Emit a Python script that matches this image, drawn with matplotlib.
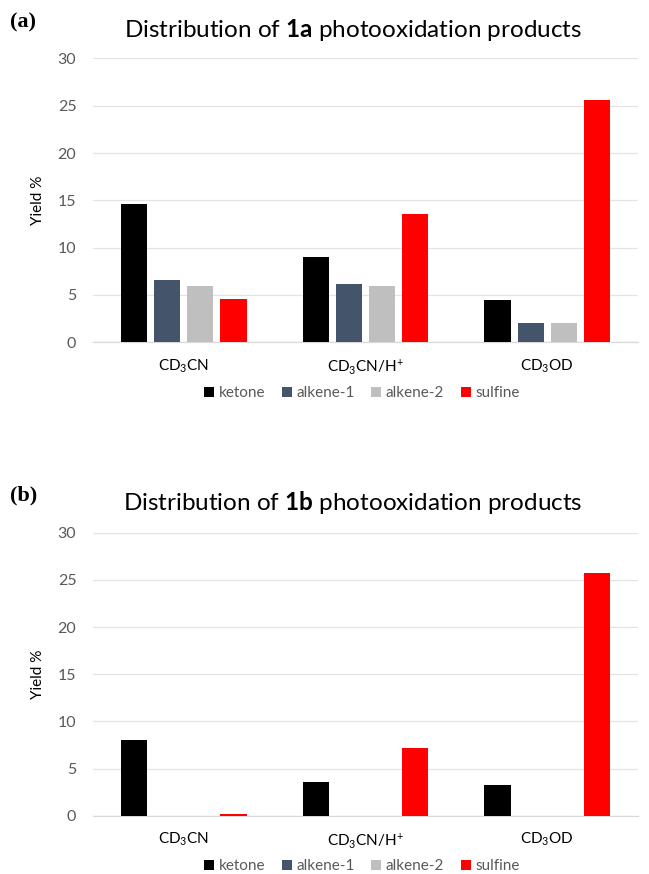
import matplotlib
matplotlib.use("Agg")
import matplotlib.pyplot as plt
import numpy as np
from matplotlib.patches import Patch

plt.rcParams['font.family'] = ['Lato', 'DejaVu Sans']
plt.rcParams['mathtext.fontset'] = 'custom'
plt.rcParams['mathtext.rm'] = 'Lato'
plt.rcParams['mathtext.bf'] = 'Lato:bold'
plt.rcParams['mathtext.it'] = 'Lato:italic'
plt.rcParams['mathtext.default'] = 'regular'

solvents = ["CD$_3$CN", "CD$_3$CN/H$^{+}$", "CD$_3$OD"]
series_names = ["ketone", "alkene-1", "alkene-2", "sulfine"]
colors = ["#000000", "#44546A", "#BFBFBF", "#FF0000"]

# panel (a): compound 1a
a_ketone = [14.6, 9.0, 4.5]
a_alkene1 = [6.6, 6.2, 2.0]
a_alkene2 = [6.0, 6.0, 2.0]
a_sulfine = [4.6, 13.6, 25.6]

# panel (b): compound 1b
b_ketone = [8.0, 3.6, 3.3]
b_alkene1 = [0.0, 0.0, 0.0]
b_alkene2 = [0.0, 0.0, 0.0]
b_sulfine = [0.2, 7.2, 25.7]

yticks = [0, 5, 10, 15, 20, 25, 30]

W, H = 649, 874
fig = plt.figure(figsize=(W / 100, H / 100), dpi=100)

def make_panel(top_px, bottom_px, data, tag, compound, title_y_px, legend_y_px):
    left_px, right_px = 93, 638
    ax = fig.add_axes([left_px / W, 1 - bottom_px / H, (right_px - left_px) / W,
                       (bottom_px - top_px) / H])
    x = np.arange(len(solvents))
    w = 0.144
    step = 0.182
    for i, (vals, c, name) in enumerate(zip(data, colors, series_names)):
        ax.bar(x + (i - 1.5) * step, vals, width=w, color=c, label=name,
               edgecolor='none', zorder=3)
    ax.set_xlim(-0.5, 2.5)
    ax.set_ylim(0, 30)
    ax.set_yticks(yticks)
    ax.set_yticklabels([str(t) for t in yticks], color="#595959", fontsize=11.5)
    ax.set_xticks(x)
    ax.set_xticklabels(solvents, fontsize=11, color="#000000")
    ax.tick_params(axis='both', length=0)
    ax.tick_params(axis='x', pad=11)
    ax.tick_params(axis='y', pad=12)
    ax.grid(axis='y', color="#E3E3E3", linewidth=0.9, zorder=0)
    for s in ['top', 'right', 'left']:
        ax.spines[s].set_visible(False)
    ax.spines['bottom'].set_color("#D9D9D9")
    ax.spines['bottom'].set_linewidth(0.9)
    ax.set_ylabel("Yield %", fontsize=11, color="#000000", labelpad=9)
    fig.text(353 / W, 1 - title_y_px / H,
             "Distribution of $\\mathbf{" + compound + "}$ photooxidation products",
             ha='center', va='center', fontsize=17.5, color="#000000")
    fig.text(10 / W, 1 - (title_y_px - 8) / H, tag, ha='left', va='center',
             fontsize=16, fontweight='bold', family='Liberation Serif')
    handles = [Patch(facecolor=c, edgecolor='none') for c in colors]
    leg = fig.legend(handles, series_names, loc='center', ncol=4,
                     bbox_to_anchor=(362 / W, 1 - legend_y_px / H), frameon=False,
                     fontsize=11, handlelength=0.65, handleheight=0.65,
                     handletextpad=0.3, columnspacing=1.1)
    for t in leg.get_texts():
        t.set_color("#595959")
    return ax

make_panel(58.5, 342.3, [a_ketone, a_alkene1, a_alkene2, a_sulfine], "(a)", "1a", 30, 393)
make_panel(532.7, 815.7, [b_ketone, b_alkene1, b_alkene2, b_sulfine], "(b)", "1b", 503, 866)

fig.savefig("out.png", dpi=100, facecolor="white")
